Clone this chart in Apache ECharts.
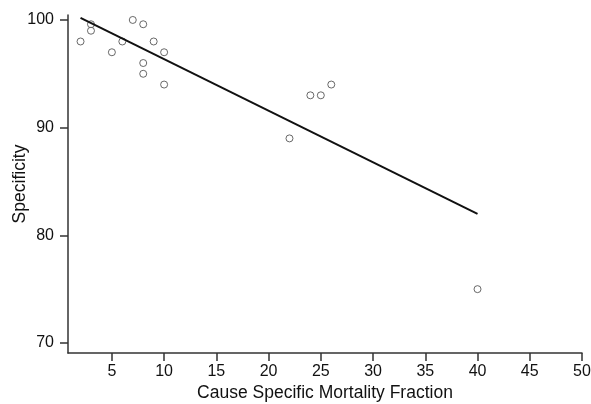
<!DOCTYPE html>
<html>
<head>
<meta charset="utf-8">
<script src="https://cdn.jsdelivr.net/npm/echarts@6/dist/echarts.min.js"></script>
<style>
html,body{margin:0;padding:0;background:#fff;}
#chart{width:591px;height:404px;}
</style>
</head>
<body>
<div id="chart"></div>
<script>
// points
var csmf = [2, 3, 3, 5, 6, 7, 8, 9, 10, 8, 8, 10, 22, 24, 25, 26, 40];
var spec = [98, 99.6, 99, 97, 98, 100, 99.6, 98, 97, 96, 95, 94, 89, 93, 93, 94, 75];
// fitted line ends
var fitX = [2, 40];
var fitY = [100.2, 82];
var xTicks = [5, 10, 15, 20, 25, 30, 35, 40, 45, 50];
var yTicks = [70, 80, 90, 100];

var pts = [];
for (var i = 0; i < csmf.length; i++) {
	pts.push([csmf[i], spec[i]]);
}
var fit = [];
for (var j = 0; j < fitX.length; j++) {
	fit.push([fitX[j], fitY[j]]);
}

var chart = echarts.init(document.getElementById('chart'));
var axisCol = '#333';
var font = 'Liberation Sans, Arial, sans-serif';

var option = {
	animation: false,
	grid: {left: 68, right: 9, top: 15, bottom: 51, outerBoundsMode: 'none', containLabel: false},
	xAxis: {
		type: 'value',
		min: 0.8,
		max: 50,
		name: 'Cause Specific Mortality Fraction',
		nameLocation: 'middle',
		nameGap: 31,
		nameMoveOverlap: false,
		nameTextStyle: {fontSize: 17.5, color: '#111', fontFamily: font},
		axisLine: {show: true, lineStyle: {color: axisCol, width: 1.5}},
		axisTick: {show: true, customValues: xTicks, length: 8, lineStyle: {color: axisCol, width: 1.5}},
		axisLabel: {customValues: xTicks, margin: 11, fontSize: 16, color: '#111', fontFamily: font},
		splitLine: {show: false}
	},
	yAxis: {
		type: 'value',
		min: 69.07,
		max: 100.46,
		name: 'Specificity',
		nameLocation: 'middle',
		nameGap: 39,
		nameMoveOverlap: false,
		nameTextStyle: {fontSize: 17.5, color: '#111', fontFamily: font},
		axisLine: {show: true, lineStyle: {color: axisCol, width: 1.5}},
		axisTick: {show: true, customValues: yTicks, length: 8, lineStyle: {color: axisCol, width: 1.5}},
		axisLabel: {customValues: yTicks, margin: 14, fontSize: 16, color: '#111', fontFamily: font},
		splitLine: {show: false}
	},
	series: [{
		type: 'scatter',
		data: pts,
		symbol: 'circle',
		symbolSize: 7,
		itemStyle: {color: '#fff', borderColor: '#444', borderWidth: 1}
	}, {
		type: 'line',
		data: fit,
		symbol: 'none',
		lineStyle: {color: '#111', width: 2}
	}]
};
chart.setOption(option);
</script>
</body>
</html>
